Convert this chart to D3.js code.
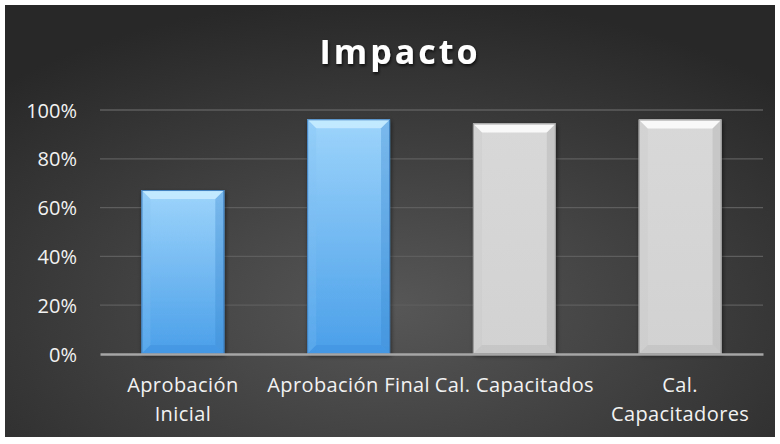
<!DOCTYPE html>
<html>
<head>
<meta charset="utf-8">
<script src="https://cdn.jsdelivr.net/npm/d3@7"></script>
<style>
    body { margin: 0; background: #ffffff; }
    svg { display: block; }
    .tick text { font-family: "Open Sans", sans-serif; fill: #f2f2f2; }
</style>
</head>
<body>
<svg id="visualisation"></svg>
<script>
// data
var categories = ["Aprobación Inicial", "Aprobación Final", "Cal. Capacitados", "Cal. Capacitadores"];
var categoryLines = [["Aprobación", "Inicial"], ["Aprobación Final"], ["Cal. Capacitados"], ["Cal.", "Capacitadores"]];
var values = [0.672, 0.962, 0.945, 0.961];
var barStyle = ["blue", "blue", "grey", "grey"];
var yTicks = [0, 0.2, 0.4, 0.6, 0.8, 1.0];

var W = 780, H = 444;
var margin = { top: 110, right: 17, bottom: 90, left: 100 };
var width = W - margin.left - margin.right;
var height = 354 - margin.top;

var root = d3.select('#visualisation')
    .attr('width', W)
    .attr('height', H);

var defs = root.append('defs');

// background radial gradient
var bg = defs.append('radialGradient')
    .attr('id', 'bgGrad')
    .attr('cx', '0.5').attr('cy', '0.7').attr('r', '0.72');
bg.append('stop').attr('offset', '0%').attr('stop-color', '#575757');
bg.append('stop').attr('offset', '100%').attr('stop-color', '#282828');

var blueGrad = defs.append('linearGradient')
    .attr('id', 'blueGrad').attr('x1', 0).attr('y1', 0).attr('x2', 0).attr('y2', 1);
blueGrad.append('stop').attr('offset', '0%').attr('stop-color', '#9dd4fb');
blueGrad.append('stop').attr('offset', '100%').attr('stop-color', '#4a9fe9');

var greyGrad = defs.append('linearGradient')
    .attr('id', 'greyGrad').attr('x1', 0).attr('y1', 0).attr('x2', 0).attr('y2', 1);
greyGrad.append('stop').attr('offset', '0%').attr('stop-color', '#d8d8d8');
greyGrad.append('stop').attr('offset', '100%').attr('stop-color', '#d2d2d2');

var shadow = defs.append('filter').attr('id', 'shadow')
    .attr('x', '-20%').attr('y', '-20%').attr('width', '140%').attr('height', '140%');
shadow.append('feDropShadow')
    .attr('dx', 1).attr('dy', 2).attr('stdDeviation', 2)
    .attr('flood-color', '#000').attr('flood-opacity', 0.55);

var titleShadow = defs.append('filter').attr('id', 'titleShadow');
titleShadow.append('feDropShadow')
    .attr('dx', 1).attr('dy', 2).attr('stdDeviation', 1.5)
    .attr('flood-color', '#000').attr('flood-opacity', 0.7);

root.append('rect')
    .attr('x', 5).attr('y', 5)
    .attr('width', 770).attr('height', 432)
    .attr('fill', 'url(#bgGrad)');

// title
root.append('text')
    .attr('x', 400)
    .attr('y', 64)
    .attr('text-anchor', 'middle')
    .attr('fill', '#ffffff')
    .attr('filter', 'url(#titleShadow)')
    .style('font-family', '"Open Sans", sans-serif')
    .style('font-weight', 'bold')
    .style('font-size', '34px')
    .style('letter-spacing', '3px')
    .text('Impacto');

var svg = root.append('g')
    .attr('transform', `translate(${margin.left}, ${margin.top})`);

var xScale = d3.scaleBand()
    .domain(categories)
    .range([0, width])
    .paddingInner(0.5)
    .paddingOuter(0.25);

var yScale = d3.scaleLinear()
    .domain([0, 1])
    .range([height, 0]);

// gridlines
svg.append('g')
    .selectAll('line')
    .data(yTicks.filter(d => d > 0))
    .enter().append('line')
    .attr('x1', 0).attr('x2', width)
    .attr('y1', d => yScale(d)).attr('y2', d => yScale(d))
    .attr('stroke', '#5e5e5e')
    .attr('stroke-width', 1.3);

// Y Axis
var yAxis = svg.append('g')
    .attr('transform', 'translate(-20, 0)')
    .call(d3.axisLeft(yScale).tickValues(yTicks).tickFormat(d3.format('.0%')).tickSize(0));
yAxis.select('.domain').remove();
yAxis.selectAll('text').style('font-size', '20px').attr('dy', '0.35em');

// bars with bevel
var bars = svg.selectAll('.bar')
    .data(values)
    .enter().append('g')
    .attr('class', 'bar')
    .attr('filter', 'url(#shadow)');

bars.each(function (v, i) {
    var g = d3.select(this);
    var x0 = xScale(categories[i]);
    var bw = xScale.bandwidth();
    var y0 = yScale(v);
    var y1 = yScale(0);
    var b = 9;
    var blue = barStyle[i] === 'blue';
    g.append('rect')
        .attr('x', x0).attr('y', y0)
        .attr('width', bw).attr('height', y1 - y0)
        .attr('fill', blue ? 'url(#blueGrad)' : 'url(#greyGrad)');
    // top bevel
    g.append('path')
        .attr('d', `M${x0},${y0}L${x0 + bw},${y0}L${x0 + bw - b},${y0 + b}L${x0 + b},${y0 + b}Z`)
        .attr('fill', blue ? '#c8ecff' : '#ffffff')
        .attr('opacity', 0.85);
    // left bevel
    g.append('path')
        .attr('d', `M${x0},${y0}L${x0 + b},${y0 + b}L${x0 + b},${y1 - b}L${x0},${y1}Z`)
        .attr('fill', blue ? '#7fc0f5' : '#c4c4c4')
        .attr('opacity', 0.25);
    // right bevel
    g.append('path')
        .attr('d', `M${x0 + bw},${y0}L${x0 + bw - b},${y0 + b}L${x0 + bw - b},${y1 - b}L${x0 + bw},${y1}Z`)
        .attr('fill', blue ? '#3a86cf' : '#a8a8a8')
        .attr('opacity', 0.35);
    // bottom bevel
    g.append('path')
        .attr('d', `M${x0},${y1}L${x0 + b},${y1 - b}L${x0 + bw - b},${y1 - b}L${x0 + bw},${y1}Z`)
        .attr('fill', blue ? '#3d8ede' : '#b8b8b8')
        .attr('opacity', 0.45);
    // edge line
    g.append('rect')
        .attr('x', x0 + 0.5).attr('y', y0 + 0.5)
        .attr('width', bw - 1).attr('height', y1 - y0 - 1)
        .attr('fill', 'none')
        .attr('stroke', blue ? '#3f7fbf' : '#9a9a9a')
        .attr('stroke-width', 1);
});

// X Axis
var xAxis = svg.append('g')
    .attr('transform', `translate(0, ${height})`)
    .call(d3.axisBottom(xScale).tickSize(0).tickFormat(''));
xAxis.select('.domain')
    .attr('stroke', '#a6a6a6')
    .attr('stroke-width', 2.5);

xAxis.selectAll('.tick').each(function (d, i) {
    var t = d3.select(this).append('text')
        .attr('y', 38)
        .attr('text-anchor', 'middle')
        .style('font-size', '20px')
        .style('letter-spacing', '0.4px');
    categoryLines[i].forEach((line, j) => {
        t.append('tspan')
            .attr('x', 0)
            .attr('dy', j === 0 ? 0 : 29)
            .text(line);
    });
});
</script>
</body>
</html>
